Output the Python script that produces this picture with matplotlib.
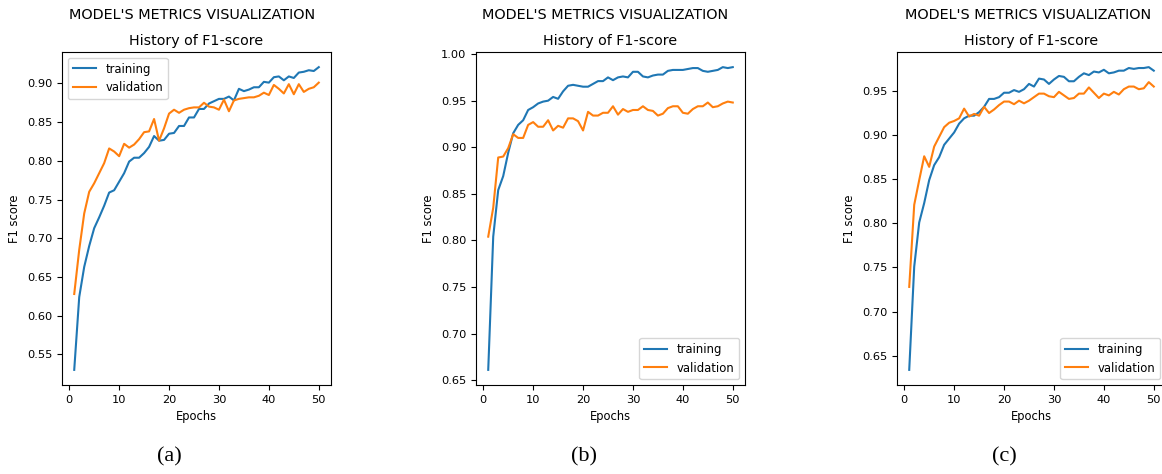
import numpy as np
import matplotlib
matplotlib.use("Agg")
import matplotlib.pyplot as plt

# F1 history for three models, 50 epochs each
epochs = np.arange(1, 51)

train_a = [0.530, 0.624, 0.663, 0.690, 0.713, 0.727, 0.742, 0.759, 0.762, 0.773,
           0.784, 0.799, 0.804, 0.804, 0.810, 0.818, 0.832, 0.826, 0.827, 0.835,
           0.836, 0.845, 0.845, 0.856, 0.856, 0.867, 0.867, 0.874, 0.877, 0.880,
           0.880, 0.883, 0.878, 0.893, 0.890, 0.892, 0.895, 0.895, 0.902, 0.901,
           0.908, 0.909, 0.904, 0.909, 0.907, 0.914, 0.915, 0.917, 0.916, 0.921]
val_a = [0.628, 0.685, 0.732, 0.760, 0.771, 0.784, 0.797, 0.816, 0.812, 0.806,
         0.822, 0.817, 0.821, 0.828, 0.837, 0.838, 0.854, 0.826, 0.842, 0.861,
         0.866, 0.862, 0.866, 0.868, 0.869, 0.869, 0.875, 0.870, 0.869, 0.866,
         0.879, 0.864, 0.878, 0.880, 0.881, 0.882, 0.882, 0.884, 0.888, 0.885,
         0.898, 0.893, 0.887, 0.899, 0.886, 0.899, 0.889, 0.893, 0.895, 0.901]

train_b = [0.661, 0.804, 0.854, 0.869, 0.894, 0.915, 0.924, 0.929, 0.940, 0.943,
           0.947, 0.949, 0.950, 0.954, 0.952, 0.960, 0.966, 0.967, 0.966, 0.965,
           0.965, 0.968, 0.971, 0.971, 0.975, 0.972, 0.975, 0.976, 0.975, 0.981,
           0.981, 0.976, 0.975, 0.977, 0.978, 0.978, 0.982, 0.983, 0.983, 0.983,
           0.984, 0.985, 0.985, 0.982, 0.981, 0.982, 0.983, 0.986, 0.985, 0.986]
val_b = [0.804, 0.835, 0.889, 0.890, 0.899, 0.914, 0.910, 0.910, 0.924, 0.927,
         0.922, 0.922, 0.929, 0.918, 0.923, 0.921, 0.931, 0.931, 0.928, 0.918,
         0.938, 0.934, 0.934, 0.937, 0.937, 0.944, 0.935, 0.941, 0.938, 0.940,
         0.940, 0.944, 0.940, 0.939, 0.934, 0.936, 0.942, 0.944, 0.944, 0.937,
         0.936, 0.941, 0.944, 0.944, 0.948, 0.943, 0.944, 0.947, 0.949, 0.948]

train_c = [0.634, 0.751, 0.801, 0.823, 0.849, 0.866, 0.875, 0.889, 0.896, 0.903,
           0.913, 0.919, 0.922, 0.922, 0.926, 0.932, 0.941, 0.941, 0.943, 0.948,
           0.948, 0.951, 0.949, 0.952, 0.958, 0.955, 0.964, 0.963, 0.958, 0.963,
           0.967, 0.966, 0.961, 0.961, 0.966, 0.970, 0.968, 0.972, 0.971, 0.974,
           0.970, 0.971, 0.973, 0.973, 0.976, 0.975, 0.976, 0.976, 0.977, 0.973]
val_c = [0.728, 0.821, 0.849, 0.876, 0.864, 0.887, 0.898, 0.909, 0.914, 0.916,
         0.919, 0.930, 0.921, 0.924, 0.922, 0.932, 0.925, 0.929, 0.934, 0.938,
         0.938, 0.935, 0.939, 0.936, 0.939, 0.943, 0.947, 0.947, 0.944, 0.943,
         0.949, 0.945, 0.941, 0.942, 0.947, 0.947, 0.954, 0.948, 0.942, 0.947,
         0.945, 0.949, 0.946, 0.952, 0.955, 0.955, 0.952, 0.953, 0.960, 0.955]

panels = [("(a)", train_a, val_a, "upper left"),
          ("(b)", train_b, val_b, "lower right"),
          ("(c)", train_c, val_c, "lower right")]

W, H = 1162, 474
fig = plt.figure(figsize=(W / 100, H / 100), dpi=100)

# axes boxes in pixels: left, top, right, bottom
boxes = [(62, 52, 331, 385), (476, 52, 745, 385), (897, 52, 1166, 385)]
# each panel was its own figure, so the suptitle sits a bit left of the axes centre
sup_x = [192, 605, 1028]

for (tag, tr, va, loc), (l, t, r, b), sx in zip(panels, boxes, sup_x):
    ax = fig.add_axes([l / W, 1 - b / H, (r - l) / W, (b - t) / H])
    ax.plot(epochs, tr, color="#1f77b4", label="training")
    ax.plot(epochs, va, color="#ff7f0e", label="validation")
    ax.set_title("History of F1-score", fontsize=10.3, pad=5)
    ax.set_xlabel("Epochs", fontsize=8.3)
    ax.set_ylabel("F1 score", fontsize=8.3)
    ax.set_xticks([0, 10, 20, 30, 40, 50])
    ax.tick_params(labelsize=8.2)
    ax.legend(loc=loc, fontsize=8.4)
    fig.text(sx / W, 1 - 15 / H, "MODEL'S METRICS VISUALIZATION",
             ha="center", va="center", fontsize=10.4)
    fig.text(((l + r) / 2 - 27) / W, 1 - 457 / H, tag, ha="center", va="center",
             fontsize=16, family="Liberation Serif")

fig.savefig("out.png", dpi=100)
